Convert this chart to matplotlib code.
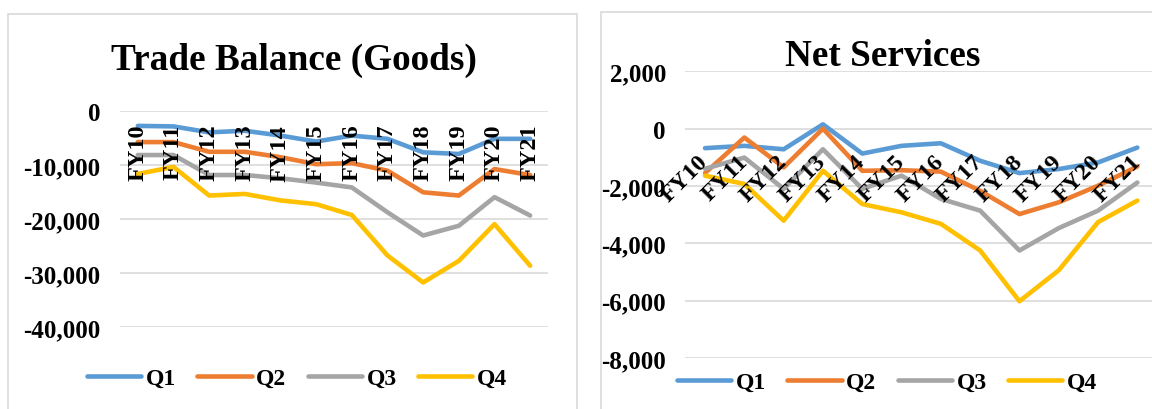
import matplotlib
matplotlib.use("Agg")
import matplotlib.pyplot as plt
from matplotlib.patches import Rectangle
from matplotlib.ticker import FuncFormatter

plt.rcParams['font.family'] = ['Liberation Serif', 'DejaVu Serif']
plt.rcParams['font.weight'] = 'bold'

years = ['FY10', 'FY11', 'FY12', 'FY13', 'FY14', 'FY15',
         'FY16', 'FY17', 'FY18', 'FY19', 'FY20', 'FY21']
quarters = ['Q1', 'Q2', 'Q3', 'Q4']
colors = ['#5B9BD5', '#ED7D31', '#A5A5A5', '#FFC000']

# trade balance in goods, one list per quarter
goods_q1 = [-2700, -2800, -3900, -3600, -4500, -5600, -4500, -5100, -7600, -7900, -5100, -5100]
goods_q2 = [-5700, -5700, -7500, -7500, -8500, -9800, -9600, -11000, -15000, -15600, -10700, -11800]
goods_q3 = [-8100, -8100, -11800, -11800, -12400, -13200, -14100, -18700, -23000, -21200, -15900, -19300]
goods_q4 = [-11600, -10300, -15600, -15300, -16500, -17200, -19200, -26700, -31700, -27700, -20900, -28600]

# net services, one list per quarter
serv_q1 = [-680, -600, -720, 150, -870, -600, -510, -1120, -1550, -1410, -1180, -660]
serv_q2 = [-1550, -310, -1350, 0, -1470, -1450, -1500, -2170, -2980, -2570, -1990, -1320]
serv_q3 = [-1400, -1010, -2100, -720, -2100, -1640, -2450, -2860, -4250, -3470, -2860, -1880]
serv_q4 = [-1640, -1930, -3210, -1470, -2630, -2920, -3320, -4250, -6020, -4940, -3260, -2510]

goods_ticks = [0, -10000, -20000, -30000, -40000]
serv_ticks = [2000, 0, -2000, -4000, -6000, -8000]

W, H = 1152, 410
fig = plt.figure(figsize=(W / 100, H / 100), dpi=100)

# chart frames
fig.add_artist(Rectangle((8 / W, -0.05), (577 - 8) / W, 1 - 15 / H + 0.05,
                         transform=fig.transFigure, fill=False,
                         edgecolor='#D9D9D9', linewidth=1.2))
fig.add_artist(Rectangle((601 / W, -0.05), 0.6, 1 - 13 / H + 0.05,
                         transform=fig.transFigure, fill=False,
                         edgecolor='#D9D9D9', linewidth=1.2))

fmt = FuncFormatter(lambda v, p: f'{int(v):,}')


def make_chart(rect, series, ticks, title, title_xy, legend_xy, rot):
    ax = fig.add_axes(rect)
    x = range(len(years))
    for vals, q, c in zip(series, quarters, colors):
        ax.plot(x, vals, color=c, lw=3.3, label=q,
                solid_capstyle='round', solid_joinstyle='round', zorder=2)
    ax.set_xlim(-0.5, len(years) - 0.5)
    ax.set_ylim(min(ticks), max(ticks))
    ax.set_yticks(ticks)
    ax.yaxis.set_major_formatter(fmt)
    ax.grid(axis='y', color='#D9D9D9', lw=1.2)
    ax.grid(axis='x', visible=False)
    ax.set_axisbelow(True)
    ax.xaxis.set_zorder(3)
    for s in ax.spines.values():
        s.set_visible(False)
    # category axis crosses at zero
    ax.spines['bottom'].set_position(('data', 0))
    ax.set_xticks(list(x))
    if rot == 90:
        ax.set_xticklabels(years, rotation=90, fontsize=17.5, fontweight='bold')
        ax.tick_params(axis='x', length=0, pad=9)
    else:
        ax.set_xticklabels(years, rotation=45, ha='right', va='center',
                           rotation_mode='anchor', fontsize=17.5, fontweight='bold')
        ax.tick_params(axis='x', length=0, pad=21)
    ax.tick_params(axis='y', length=0, pad=14, labelsize=18)
    for t in ax.get_yticklabels():
        t.set_fontweight('bold')
    fig.text(title_xy[0] / W, 1 - title_xy[1] / H, title, ha='center', va='center',
             fontsize=26.8, fontweight='bold')
    ax.legend(loc='center', bbox_to_anchor=(legend_xy[0] / W, 1 - legend_xy[1] / H),
              bbox_transform=fig.transFigure, ncol=4, frameon=False,
              prop={'size': 17, 'weight': 'bold'}, handlelength=2.3,
              handletextpad=0.2, columnspacing=0.9)
    return ax


make_chart([120 / W, (H - 328.3) / H, 428 / W, 216 / H],
           [goods_q1, goods_q2, goods_q3, goods_q4], goods_ticks,
           'Trade Balance (Goods)', (294, 60), (297, 379), 90)
make_chart([685.4 / W, (H - 359) / H, 471.6 / W, 286.7 / H],
           [serv_q1, serv_q2, serv_q3, serv_q4], serv_ticks,
           'Net Services', (883, 57), (887, 383), 45)

fig.savefig('out.png', dpi=100)
